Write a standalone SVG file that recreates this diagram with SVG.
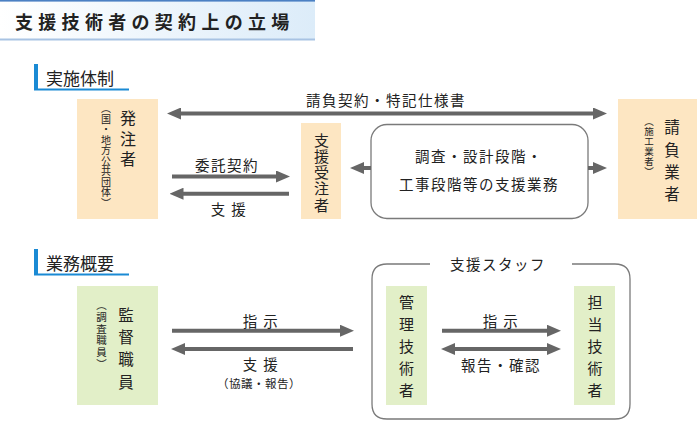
<svg xmlns="http://www.w3.org/2000/svg" width="700" height="422" viewBox="0 0 700 422">
<defs>
<linearGradient id="tg" x1="0" y1="0" x2="1" y2="0">
<stop offset="0" stop-color="#ffffff"/>
<stop offset="1" stop-color="#dcecf9"/>
</linearGradient>
<marker id="ah" viewBox="0 0 14 12" refX="1" refY="6" markerWidth="14" markerHeight="12" markerUnits="userSpaceOnUse" orient="auto-start-reverse">
<path d="M0,0 L14,6 L0,12 z" fill="#666"/>
</marker>
</defs>
<style>
text{font-family:"Noto Sans CJK JP","Noto Sans",sans-serif;fill:#222;}
.title{font-size:18px;font-weight:bold;letter-spacing:5.3px;}
.sec{font-size:17px;}
.lbl{font-size:14.5px;text-anchor:middle;letter-spacing:1.5px;}
.v{writing-mode:vertical-rl;}
.peach{fill:#fde6c2;}
.green{fill:#e2efc8;}
.conn path{stroke:#666;stroke-width:4;fill:none;}
.frame{fill:none;stroke:#7a7a7a;stroke-width:1.3;}
</style>

<g id="title">
<rect x="0" y="0" width="315" height="40" fill="url(#tg)"/>
<rect x="0" y="0" width="315" height="1.6" fill="#4b80c3"/>
<rect x="0" y="38.5" width="315" height="2" fill="#a8c3e3"/>
<text class="title" x="15" y="29">支援技術者の契約上の立場</text>
</g>

<g id="sec1">
<rect x="34" y="64" width="4" height="26" fill="#1a8ad4"/>
<rect x="34" y="88.5" width="95" height="2" fill="#1a8ad4"/>
<text class="sec" x="46" y="85">実施体制</text>
</g>

<g id="sec2">
<rect x="34" y="249" width="4" height="26" fill="#1a8ad4"/>
<rect x="34" y="273.5" width="95" height="2" fill="#1a8ad4"/>
<text class="sec" x="46" y="270">業務概要</text>
</g>

<g id="hacchusha">
<rect class="peach" x="77" y="99" width="81" height="120"/>
<text class="v" x="128" y="110" style="font-size:16px;letter-spacing:4.5px;">発注者</text>
<text class="v" x="106" y="103.5" style="font-size:10px;letter-spacing:0.5px;">（国・地方公共団体）</text>
</g>

<g id="shienjuchusha">
<rect class="peach" x="301" y="123" width="40" height="96"/>
<text class="v" x="321.5" y="132.5" style="font-size:15px;letter-spacing:1.25px;">支援受注者</text>
</g>

<g id="shienbox">
<rect class="frame" x="371" y="124.5" width="217" height="94" rx="16"/>
<text class="lbl" x="479" y="162">調査・設計段階・</text>
<text class="lbl" x="479" y="190">工事段階等の支援業務</text>
</g>

<g id="ukeoigyosha">
<rect class="peach" x="618" y="99" width="79" height="120"/>
<text class="v" x="672" y="119.75" style="font-size:15.5px;letter-spacing:6.7px;">請負業者</text>
<text class="v" x="649" y="116.25" style="font-size:9.5px;letter-spacing:0.5px;">（施工業者）</text>
</g>

<g id="kantoku">
<rect class="green" x="77" y="286" width="81" height="119"/>
<text class="v" x="126" y="307.25" style="font-size:15.5px;letter-spacing:6.8px;">監督職員</text>
<text class="v" x="101.5" y="300" style="font-size:10.5px;letter-spacing:1.2px;">（調査職員）</text>
</g>

<g id="staff">
<path class="frame" d="M430,264 H387 Q372,264 372,279 V404 Q372,419 387,419 H615 Q630,419 630,404 V279 Q630,264 615,264 H572"/>
<text class="lbl" x="498" y="270">支援スタッフ</text>
</g>

<g id="kanri">
<rect class="green" x="386" y="286" width="41" height="119"/>
<text class="v" x="406.5" y="294.5" style="font-size:15px;letter-spacing:7px;">管理技術者</text>
</g>

<g id="tanto">
<rect class="green" x="574" y="286" width="41" height="119"/>
<text class="v" x="595" y="294.5" style="font-size:15px;letter-spacing:7px;">担当技術者</text>
</g>

<g id="connectors" class="conn">
<path d="M180,113.5 H594" marker-start="url(#ah)" marker-end="url(#ah)"/>
<path d="M172,176.5 H277" marker-end="url(#ah)"/>
<path d="M289,193.7 H182.5" marker-end="url(#ah)"/>
<path d="M371,168 H363" marker-end="url(#ah)"/>
<path d="M588,168 H594" marker-end="url(#ah)"/>
<path d="M172,330.7 H341" marker-end="url(#ah)"/>
<path d="M353,349 H184" marker-end="url(#ah)"/>
<path d="M442,330.7 H548" marker-end="url(#ah)"/>
<path d="M454,349 H548" marker-start="url(#ah)" marker-end="url(#ah)"/>
</g>

<g id="labels">
<text class="lbl" x="386" y="106">請負契約・特記仕様書</text>
<text class="lbl" x="227" y="171">委託契約</text>
<text class="lbl" x="229" y="215">支 援</text>
<text class="lbl" x="261" y="327">指 示</text>
<text class="lbl" x="261" y="370">支 援</text>
<text class="lbl" x="259" y="388" style="font-size:11.5px;letter-spacing:0.5px;">（協議・報告）</text>
<text class="lbl" x="501" y="327">指 示</text>
<text class="lbl" x="501" y="371">報告・確認</text>
</g>
</svg>
